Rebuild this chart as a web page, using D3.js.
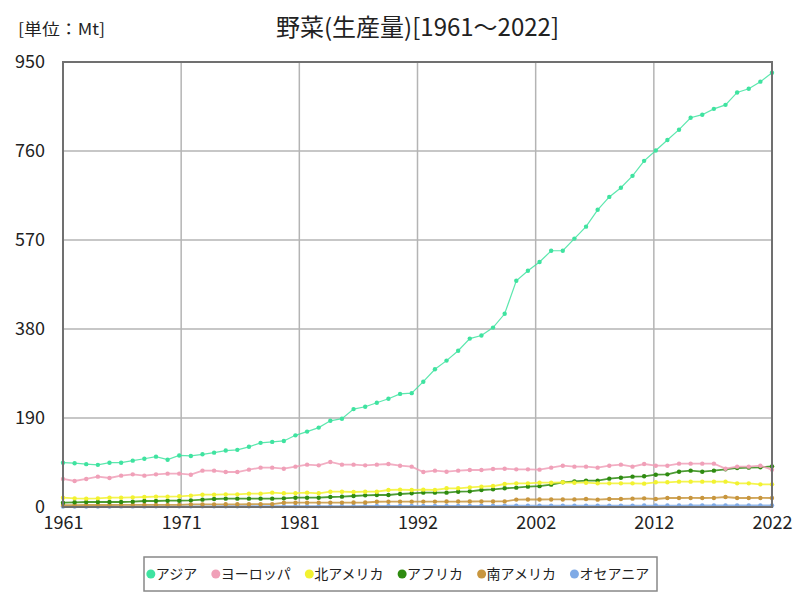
<!DOCTYPE html>
<html><head><meta charset="utf-8">
<script src="https://cdn.jsdelivr.net/npm/d3@7"></script>
<style>body{margin:0;background:#fff;} svg{display:block;}</style>
</head><body>
<svg id="chart" width="800" height="600"></svg>
<script>
const years = d3.range(1961, 2023);
const seriesNames = ["アジア","ヨーロッパ","北アメリカ","アフリカ","南アメリカ","オセアニア"];
const seriesColors = ["#3fe3a0","#f0a0b8","#f2f230","#2e8b10","#c8963e","#7faae6"];
const asia = [94.6,93.5,91.5,90,94.6,94.6,98.9,103,107.5,101,110,109,112.5,116,120.5,122,128.5,137,139,141,
  153,161,169.5,184,188.5,209,214,222.5,231,241.5,243,267.5,294,312.5,333.5,359.5,366,383,412.5,483,504.5,
  523,547,547,573,598.5,634.5,662,681.5,707,739,761,783.5,805.5,831,837.5,850,858.5,885,893,908,927];
const europe = [59.8,55.5,59.8,64.8,61.9,66.9,69.7,66.9,69.7,71.2,71.2,69,77.6,77.6,74.7,74.7,79.7,84,84,81.8,
  86.1,90.4,88.9,96.1,90.4,90.4,88.9,90.4,91.8,88.2,86.1,74.7,77.6,75.4,77.6,79,79,81.1,81.8,80.4,80.4,
  79.7,84,88.2,86.1,86.1,84,88.2,90.4,86.1,91.8,88.2,88.2,92.5,92.5,92.5,92.5,81.8,86.1,86.1,88.2,79.7];
const northAmerica = [19.9,18.5,17.8,18.5,19.9,19.9,20.6,21.3,22.1,22.1,22.8,24.2,26.3,26.3,27,27,28.5,28.5,30.6,29.2,
  29.5,30.6,29.2,32.7,32.7,32,32.7,32.7,36.3,37,36.3,37,36.3,39.9,39.9,42,43.4,44.8,49.1,50.5,50.5,
  51.9,51.9,52.7,51.9,51.9,50.5,50.5,50.5,50.5,49.8,52.7,52.7,54.1,54.1,54.1,54.1,54.1,50.5,50.5,48.4,48.4];
const africa = [9.3,10,10.7,10.7,10.7,10.7,11.4,12.8,12.8,13.5,13.5,14.2,15.7,17.1,17.8,17.8,17.8,17.8,17.8,18.5,
  19.9,19.9,19.9,21.3,22.1,23.5,24.9,25.6,25.6,27.8,29.2,30.6,30.6,30.6,32.7,33.4,36.3,37.7,39.9,41.3,43.4,
  44.5,47.7,52.7,54.8,56.2,56.2,60.5,62.6,64.8,65.5,69,69.7,75.4,77.6,75.4,77.6,80.4,83.3,84,84.7,86.8];
const southAmerica = [4.2,4.2,4.3,4.3,4.3,4.4,4.4,4.4,4.5,4.5,4.6,5.6,5.7,5.7,5.8,5.8,5.9,6.0,6.2,9.1,
  9.2,9.3,9.3,9.4,9.4,9.5,9.6,11.2,11.3,11.4,11.4,11.5,11.5,11.6,11.6,11.7,11.8,11.9,12.0,15.8,16.0,
  16.0,16.1,16.1,16.2,17.1,15.7,17.1,17.1,17.8,18.5,17.1,19.2,19.2,19.3,19.2,19.3,21.3,19.2,19.2,19.3,19.2];
const oceania = [1.1,1.1,1.2,1.2,1.2,1.3,1.3,1.3,1.4,1.4,1.4,1.5,1.5,1.5,1.6,1.6,1.6,1.7,1.7,1.8,
  1.8,1.8,1.9,1.9,2.0,2.0,2.1,2.1,2.2,2.2,2.3,2.3,2.4,2.4,2.5,2.5,2.6,2.6,2.7,2.7,2.8,
  2.8,2.8,2.9,2.9,2.9,3.0,3.0,3.0,3.0,3.1,3.1,3.1,3.1,3.2,3.2,3.2,3.2,3.2,3.3,3.3,3.3];
const yTicks = [0,190,380,570,760,950];
const xTickLabels = ["1961","1971","1981","1992","2002","2012","2022"];
const titleText = "野菜(生産量)[1961～2022]";
const unitText = "[単位：Mt]";

const allSeries = [asia, europe, northAmerica, africa, southAmerica, oceania];
const FONT = "'Noto Sans CJK JP', 'Noto Sans', sans-serif";
const svg = d3.select("#chart");
const m = {left: 63, right: 772, top: 62, bottom: 507};
const x = d3.scaleLinear().domain([1961, 2022]).range([m.left, m.right]);
const y = d3.scaleLinear().domain([0, 950]).range([m.bottom, m.top]);

// grid
const xTickVals = xTickLabels.map((d, i) => 1961 + i * (2022 - 1961) / (xTickLabels.length - 1));
const grid = svg.append("g");
grid.selectAll("line.v").data(xTickVals).join("line").attr("class", "v")
  .attr("x1", d => x(d)).attr("x2", d => x(d)).attr("y1", m.top).attr("y2", m.bottom)
  .attr("stroke", "#b4b4b4").attr("stroke-width", 1.5);
grid.selectAll("line.h").data(yTicks).join("line").attr("class", "h")
  .attr("x1", m.left).attr("x2", m.right).attr("y1", d => y(d)).attr("y2", d => y(d))
  .attr("stroke", "#b4b4b4").attr("stroke-width", 1.5);

// axes labels via d3 axes
const yAxis = d3.axisLeft(y).tickValues(yTicks).tickSize(0).tickPadding(18);
const yg = svg.append("g").attr("transform", `translate(${m.left},0)`).call(yAxis);
yg.select(".domain").remove();
yg.selectAll("text").attr("font-family", FONT).attr("font-size", 18).attr("fill", "#222");

const xAxis = d3.axisBottom(x).tickValues(xTickVals).tickFormat((d, i) => xTickLabels[i]).tickSize(0).tickPadding(9);
const xg = svg.append("g").attr("transform", `translate(0,${m.bottom})`).call(xAxis);
xg.select(".domain").remove();
xg.selectAll("text").attr("font-family", FONT).attr("font-size", 18).attr("fill", "#222");

// lines (draw bottom series first)
const line = d3.line().x((d, i) => x(years[i])).y(d => y(d));
const order = [5, 4, 3, 2, 1, 0];
order.forEach(si => {
  const g = svg.append("g");
  g.append("path").datum(allSeries[si]).attr("d", line).attr("fill", "none")
    .attr("stroke", seriesColors[si]).attr("stroke-width", si === 0 ? 1.2 : 1.8).attr("stroke-opacity", 0.85);
  g.selectAll("circle").data(allSeries[si]).join("circle")
    .attr("cx", (d, i) => x(years[i])).attr("cy", d => y(d)).attr("r", 2.2)
    .attr("fill", seriesColors[si]);
});

// frame
svg.append("rect").attr("x", m.left).attr("y", m.top).attr("width", m.right - m.left).attr("height", m.bottom - m.top)
  .attr("fill", "none").attr("stroke", "#707070").attr("stroke-width", 2);

// title
svg.append("text").attr("x", (m.left + m.right) / 2).attr("y", 36).attr("text-anchor", "middle")
  .attr("font-family", FONT).attr("font-size", 24).attr("fill", "#222")
  .attr("textLength", 283).attr("lengthAdjust", "spacingAndGlyphs").text(titleText);
svg.append("text").attr("x", 18).attr("y", 35)
  .attr("font-family", FONT).attr("font-size", 16).attr("fill", "#222")
  .attr("textLength", 87).attr("lengthAdjust", "spacingAndGlyphs").text(unitText);

// legend
svg.append("rect").attr("x", 144).attr("y", 557).attr("width", 513).attr("height", 34)
  .attr("fill", "#fff").attr("stroke", "#888").attr("stroke-width", 1.5);
const lg = svg.append("g");
const items = lg.selectAll("g").data(seriesNames).join("g");
items.append("circle").attr("r", 4.5).attr("fill", (d, i) => seriesColors[i]);
items.append("text").attr("x", 5).attr("dy", "0.35em").attr("font-family", FONT).attr("font-size", 14)
  .attr("fill", "#222").text(d => d);
let cx = 0;
const gap = 14;
items.each(function(d, i) {
  const w = this.querySelector("text").getComputedTextLength();
  d3.select(this).attr("transform", `translate(${cx},0)`);
  cx += 4.5 + 5 + w + gap;
});
const totalW = cx - gap + 4.5;
const lx0 = 400 - totalW / 2 + 4.5;
lg.attr("transform", `translate(${lx0},${574})`);
</script>
</body></html>
